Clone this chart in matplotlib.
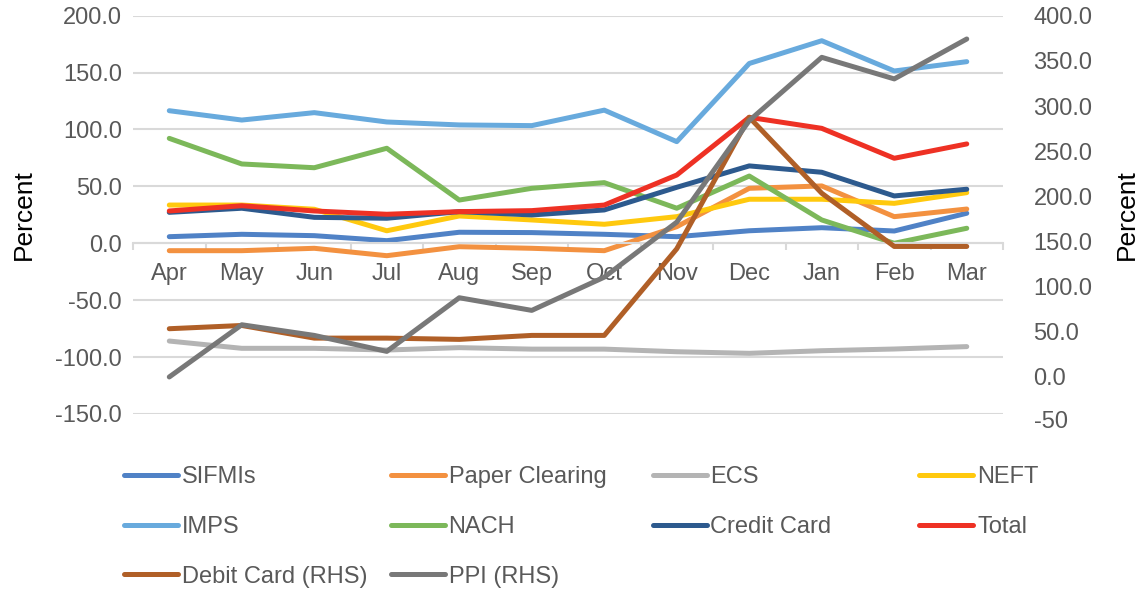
import matplotlib
matplotlib.use("Agg")
import matplotlib.pyplot as plt
import numpy as np

plt.rcParams.update({"font.family": ["Liberation Sans", "DejaVu Sans"], "font.size": 17})

months = ["Apr", "May", "Jun", "Jul", "Aug", "Sep", "Oct", "Nov", "Dec", "Jan", "Feb", "Mar"]

# left-hand axis series (per cent)
sifmis = [5.8, 7.9, 6.7, 2.3, 9.7, 9.4, 7.9, 5.8, 11.0, 13.7, 10.8, 26.4]
paper = [-6.5, -6.5, -4.4, -10.9, -3.0, -4.4, -6.5, 14.6, 48.3, 50.4, 23.4, 30.1]
ecs = [-85.9, -92.3, -92.3, -93.8, -91.7, -93.0, -93.0, -95.3, -96.7, -94.4, -92.9, -90.8]
neft = [33.6, 33.6, 29.9, 11.0, 24.0, 20.5, 16.7, 23.4, 38.7, 38.7, 35.1, 44.5]
imps = [116.5, 108.3, 114.8, 106.6, 104.0, 103.4, 117.0, 89.3, 158.0, 178.0, 151.4, 159.6]
nach = [92.2, 69.7, 66.4, 83.5, 38.0, 48.3, 53.3, 30.8, 59.1, 20.5, 0.0, 13.2]
credit = [27.2, 30.8, 22.8, 22.0, 27.8, 24.9, 29.3, 49.2, 68.0, 62.4, 41.6, 47.5]
total = [28.4, 33.0, 28.4, 25.5, 27.8, 28.7, 33.6, 60.0, 110.7, 101.0, 74.7, 87.3]

# right-hand axis series
debit = [53.4, 57.0, 43.0, 43.0, 41.6, 46.0, 46.0, 141.9, 287.5, 203.4, 144.5, 144.5]
ppi = [0.0, 57.8, 46.0, 28.3, 87.7, 73.7, 110.5, 171.4, 283.8, 353.9, 330.0, 374.2]

left_series = [
    ("SIFMIs", sifmis, "#5082c6"),
    ("Paper Clearing", paper, "#f39140"),
    ("ECS", ecs, "#b4b4b4"),
    ("NEFT", neft, "#ffc90e"),
    ("IMPS", imps, "#68aadd"),
    ("NACH", nach, "#7cb85a"),
    ("Credit Card", credit, "#2d5a8e"),
    ("Total", total, "#ee3124"),
]
right_series = [
    ("Debit Card (RHS)", debit, "#b05f27"),
    ("PPI (RHS)", ppi, "#787878"),
]

TXT = "#595959"
GRID = "#d9d9d9"
LW = 3.6

fig = plt.figure(figsize=(11.39, 5.92), dpi=100)
ax = fig.add_axes([0.1168, 0.3007, 0.7638, 0.6728])
ax2 = ax.twinx()

x = np.arange(len(months))
handles = {}
for name, vals, col in left_series:
    (h,) = ax.plot(x, vals, color=col, lw=LW, solid_capstyle="round", solid_joinstyle="round")
    handles[name] = h
for name, vals, col in right_series:
    (h,) = ax2.plot(x, vals, color=col, lw=LW, solid_capstyle="round", solid_joinstyle="round")
    handles[name] = h

# left axis
ax.set_xlim(-0.5, len(months) - 0.5)
ax.set_ylim(-150, 200)
ax.set_yticks(np.arange(-150, 201, 50))
ax.yaxis.set_major_formatter(plt.FuncFormatter(lambda v, _: f"{v:.1f}"))
ax.grid(axis="y", color=GRID, lw=1.5)
ax.set_axisbelow(True)
ax.tick_params(axis="y", length=0, pad=8, colors=TXT, labelsize=17)
ax.set_ylabel("Percent", fontsize=19, labelpad=14)

# category axis crossing at zero
for s in ["top", "left", "right"]:
    ax.spines[s].set_visible(False)
ax.spines["bottom"].set_position(("data", 0))
ax.spines["bottom"].set_color(GRID)
ax.spines["bottom"].set_linewidth(1.5)
ax.set_xticks(np.arange(-0.5, len(months), 1))
ax.set_xticklabels([])
ax.set_xticks(x, minor=True)
ax.set_xticklabels(months, minor=True)
ax.tick_params(axis="x", which="major", direction="out", length=5, width=1.5, color=GRID)
ax.tick_params(axis="x", which="minor", length=0, pad=14, colors=TXT, labelsize=17)

# right axis
for s in ["top", "left", "right", "bottom"]:
    ax2.spines[s].set_visible(False)
ax2.set_ylim(-41, 400)
ax2.set_yticks(np.arange(0, 401, 50))
ax2.yaxis.set_major_formatter(plt.FuncFormatter(lambda v, _: f"{v:.1f}"))
ax2.tick_params(axis="y", length=0, pad=22, colors=TXT, labelsize=17)
ax2.annotate("-50", xy=(1, -50), xycoords=ax2.get_yaxis_transform(), xytext=(22, 0),
             textcoords="offset points", ha="left", va="center", color=TXT, fontsize=17,
             annotation_clip=False)
ax2.set_ylabel("Percent", fontsize=19, labelpad=16, rotation=90)

# legend, laid out row by row in four columns
columns = [
    ["SIFMIs", "IMPS", "Debit Card (RHS)"],
    ["Paper Clearing", "NACH", "PPI (RHS)"],
    ["ECS", "Credit Card"],
    ["NEFT", "Total"],
]
col_x = [0.109, 0.343, 0.573, 0.807]
for cx, names in zip(col_x, columns):
    leg = fig.legend([handles[n] for n in names], names, loc="upper left",
                     bbox_to_anchor=(cx, 0.212), frameon=False, fontsize=17,
                     handlelength=2.3, handletextpad=0.15, labelspacing=1.17,
                     borderpad=0, borderaxespad=0)
    for t in leg.get_texts():
        t.set_color(TXT)

fig.savefig("out.png", dpi=100)
